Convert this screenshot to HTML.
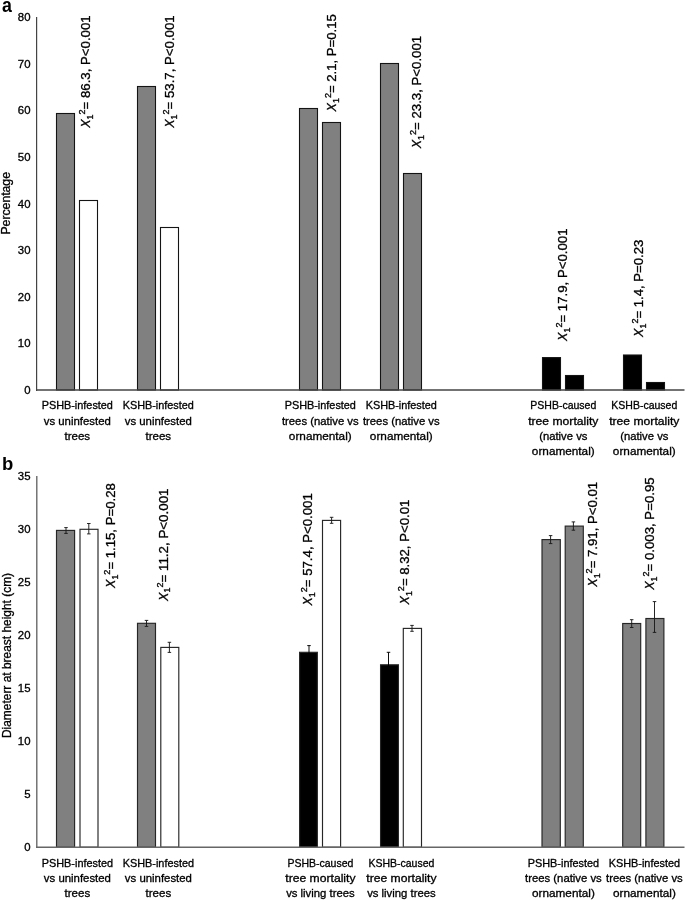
<!DOCTYPE html>
<html><head><meta charset="utf-8"><title>Figure</title>
<style>
html,body{margin:0;padding:0;background:#fff;}
body{width:685px;height:900px;overflow:hidden;position:relative;font-family:"Liberation Sans", sans-serif;}
svg text{font-family:"Liberation Sans", sans-serif;fill:#000;stroke:#000;stroke-width:0.32px;}
svg{will-change:transform;}
</style></head><body>
<svg width="685" height="900" viewBox="0 0 685 900" style="position:absolute;left:0;top:0"><rect x="0" y="0" width="685" height="900" fill="#fff"/><rect x="56.5" y="113.5" width="18" height="276.5" fill="#808080" stroke="#141414" stroke-width="1.1"/><rect x="79.5" y="200.5" width="18" height="189.5" fill="#fff" stroke="#141414" stroke-width="1.1"/><rect x="137.5" y="86.5" width="18" height="303.5" fill="#808080" stroke="#141414" stroke-width="1.1"/><rect x="160.5" y="227.5" width="18" height="162.5" fill="#fff" stroke="#141414" stroke-width="1.1"/><rect x="299.5" y="108.5" width="18" height="281.5" fill="#808080" stroke="#141414" stroke-width="1.1"/><rect x="322.5" y="122.5" width="18" height="267.5" fill="#808080" stroke="#141414" stroke-width="1.1"/><rect x="380.5" y="63.5" width="18" height="326.5" fill="#808080" stroke="#141414" stroke-width="1.1"/><rect x="403.5" y="173.5" width="18" height="216.5" fill="#808080" stroke="#141414" stroke-width="1.1"/><rect x="542.5" y="357.6" width="18" height="32.39999999999998" fill="#000" stroke="#141414" stroke-width="1.1"/><rect x="565.5" y="375.5" width="18" height="14.5" fill="#000" stroke="#141414" stroke-width="1.1"/><rect x="623.5" y="355.0" width="18" height="35.0" fill="#000" stroke="#141414" stroke-width="1.1"/><rect x="646.5" y="382.5" width="18" height="7.5" fill="#000" stroke="#141414" stroke-width="1.1"/><line x1="36.6" y1="17" x2="36.6" y2="391" stroke="#444" stroke-width="1.2"/><line x1="36" y1="390" x2="684.5" y2="390" stroke="#444" stroke-width="1.4"/><rect x="56.5" y="530.4" width="18.1" height="316.80" fill="#808080" stroke="#262626" stroke-width="1.15"/><rect x="80.0" y="529.3" width="18.0" height="317.90" fill="#fff" stroke="#262626" stroke-width="1.15"/><rect x="137.5" y="623.3" width="18.0" height="223.90" fill="#808080" stroke="#262626" stroke-width="1.15"/><rect x="160.8" y="647.4" width="18.0" height="199.80" fill="#fff" stroke="#262626" stroke-width="1.15"/><rect x="299.6" y="652.3" width="17.75" height="194.90" fill="#000" stroke="#262626" stroke-width="1.15"/><rect x="322.5" y="520.4" width="18.1" height="326.80" fill="#fff" stroke="#262626" stroke-width="1.15"/><rect x="380.55" y="664.8" width="17.9" height="182.40" fill="#000" stroke="#262626" stroke-width="1.15"/><rect x="403.3" y="628.4" width="18.2" height="218.80" fill="#fff" stroke="#262626" stroke-width="1.15"/><rect x="542.0" y="539.6" width="18.3" height="307.60" fill="#808080" stroke="#262626" stroke-width="1.15"/><rect x="565.2" y="526.1" width="18.1" height="321.10" fill="#808080" stroke="#262626" stroke-width="1.15"/><rect x="622.7" y="623.5" width="18.0" height="223.70" fill="#808080" stroke="#262626" stroke-width="1.15"/><rect x="645.9" y="618.5" width="18.0" height="228.70" fill="#808080" stroke="#262626" stroke-width="1.15"/><path d="M66.0 527.6V533.4M64.25 527.6H67.75M64.25 533.4H67.75" stroke="#1a1a1a" stroke-width="0.95" fill="none"/><path d="M88.8 523.5V533.9M87.05 523.5H90.55M87.05 533.9H90.55" stroke="#1a1a1a" stroke-width="0.95" fill="none"/><path d="M146.5 620.4V626.4M144.75 620.4H148.25M144.75 626.4H148.25" stroke="#1a1a1a" stroke-width="0.95" fill="none"/><path d="M169.4 642.3V652.4M167.65 642.3H171.15M167.65 652.4H171.15" stroke="#1a1a1a" stroke-width="0.95" fill="none"/><path d="M309.0 645.6V658.0M307.25 645.6H310.75M307.25 658.0H310.75" stroke="#000" stroke-width="0.95" fill="none"/><path d="M331.6 517.3V523.3M329.85 517.3H333.35M329.85 523.3H333.35" stroke="#1a1a1a" stroke-width="0.95" fill="none"/><path d="M388.5 652.3V676.5M386.75 652.3H390.25M386.75 676.5H390.25" stroke="#000" stroke-width="0.95" fill="none"/><path d="M412.0 625.4V631.3M410.25 625.4H413.75M410.25 631.3H413.75" stroke="#1a1a1a" stroke-width="0.95" fill="none"/><path d="M550.6 535.6V543.6M548.85 535.6H552.35M548.85 543.6H552.35" stroke="#1a1a1a" stroke-width="0.95" fill="none"/><path d="M573.4 521.9V530.2M571.65 521.9H575.15M571.65 530.2H575.15" stroke="#1a1a1a" stroke-width="0.95" fill="none"/><path d="M631.7 619.7V627.5M629.95 619.7H633.45M629.95 627.5H633.45" stroke="#1a1a1a" stroke-width="0.95" fill="none"/><path d="M654.5 601.6V632.4M652.75 601.6H656.25M652.75 632.4H656.25" stroke="#1a1a1a" stroke-width="0.95" fill="none"/><line x1="36.8" y1="476" x2="36.8" y2="848" stroke="#5e5e5e" stroke-width="1.3"/><line x1="36" y1="847.3" x2="684.5" y2="847.3" stroke="#666" stroke-width="1.4"/><text x="30.50" y="394.10" font-size="11.62" text-anchor="end" textLength="6.34" lengthAdjust="spacingAndGlyphs"  style="">0</text><text x="30.50" y="347.48" font-size="11.62" text-anchor="end" textLength="12.67" lengthAdjust="spacingAndGlyphs"  style="">10</text><text x="30.50" y="300.85" font-size="11.62" text-anchor="end" textLength="12.67" lengthAdjust="spacingAndGlyphs"  style="">20</text><text x="30.50" y="254.22" font-size="11.62" text-anchor="end" textLength="12.67" lengthAdjust="spacingAndGlyphs"  style="">30</text><text x="30.50" y="207.60" font-size="11.62" text-anchor="end" textLength="12.67" lengthAdjust="spacingAndGlyphs"  style="">40</text><text x="30.50" y="160.97" font-size="11.62" text-anchor="end" textLength="12.67" lengthAdjust="spacingAndGlyphs"  style="">50</text><text x="30.50" y="114.35" font-size="11.62" text-anchor="end" textLength="12.67" lengthAdjust="spacingAndGlyphs"  style="">60</text><text x="30.50" y="67.72" font-size="11.62" text-anchor="end" textLength="12.67" lengthAdjust="spacingAndGlyphs"  style="">70</text><text x="30.50" y="21.10" font-size="11.62" text-anchor="end" textLength="12.67" lengthAdjust="spacingAndGlyphs"  style="">80</text><text x="30.50" y="851.10" font-size="11.62" text-anchor="end" textLength="6.34" lengthAdjust="spacingAndGlyphs"  style="">0</text><text x="30.50" y="798.10" font-size="11.62" text-anchor="end" textLength="6.34" lengthAdjust="spacingAndGlyphs"  style="">5</text><text x="30.50" y="745.10" font-size="11.62" text-anchor="end" textLength="12.67" lengthAdjust="spacingAndGlyphs"  style="">10</text><text x="30.50" y="692.10" font-size="11.62" text-anchor="end" textLength="12.67" lengthAdjust="spacingAndGlyphs"  style="">15</text><text x="30.50" y="639.10" font-size="11.62" text-anchor="end" textLength="12.67" lengthAdjust="spacingAndGlyphs"  style="">20</text><text x="30.50" y="586.10" font-size="11.62" text-anchor="end" textLength="12.67" lengthAdjust="spacingAndGlyphs"  style="">25</text><text x="30.50" y="533.10" font-size="11.62" text-anchor="end" textLength="12.67" lengthAdjust="spacingAndGlyphs"  style="">30</text><text x="30.50" y="480.10" font-size="11.62" text-anchor="end" textLength="12.67" lengthAdjust="spacingAndGlyphs"  style="">35</text><text x="77.30" y="409.35" font-size="11.62" text-anchor="middle" textLength="71.29" lengthAdjust="spacingAndGlyphs"  style="">PSHB-infested</text><text x="77.30" y="424.50" font-size="11.62" text-anchor="middle" textLength="67.12" lengthAdjust="spacingAndGlyphs"  style="">vs uninfested</text><text x="77.30" y="439.65" font-size="11.62" text-anchor="middle" textLength="25.71" lengthAdjust="spacingAndGlyphs"  style="">trees</text><text x="158.30" y="409.35" font-size="11.62" text-anchor="middle" textLength="71.22" lengthAdjust="spacingAndGlyphs"  style="">KSHB-infested</text><text x="158.30" y="424.50" font-size="11.62" text-anchor="middle" textLength="67.12" lengthAdjust="spacingAndGlyphs"  style="">vs uninfested</text><text x="158.30" y="439.65" font-size="11.62" text-anchor="middle" textLength="25.71" lengthAdjust="spacingAndGlyphs"  style="">trees</text><text x="320.30" y="409.35" font-size="11.62" text-anchor="middle" textLength="71.29" lengthAdjust="spacingAndGlyphs"  style="">PSHB-infested</text><text x="320.30" y="424.50" font-size="11.62" text-anchor="middle" textLength="76.78" lengthAdjust="spacingAndGlyphs"  style="">trees (native vs</text><text x="320.30" y="439.65" font-size="11.62" text-anchor="middle" textLength="62.84" lengthAdjust="spacingAndGlyphs"  style="">ornamental)</text><text x="401.30" y="409.35" font-size="11.62" text-anchor="middle" textLength="71.22" lengthAdjust="spacingAndGlyphs"  style="">KSHB-infested</text><text x="401.30" y="424.50" font-size="11.62" text-anchor="middle" textLength="76.78" lengthAdjust="spacingAndGlyphs"  style="">trees (native vs</text><text x="401.30" y="439.65" font-size="11.62" text-anchor="middle" textLength="62.84" lengthAdjust="spacingAndGlyphs"  style="">ornamental)</text><text x="563.30" y="409.35" font-size="11.62" text-anchor="middle" textLength="66.03" lengthAdjust="spacingAndGlyphs"  style="">PSHB-caused</text><text x="563.30" y="424.50" font-size="11.62" text-anchor="middle" textLength="70.19" lengthAdjust="spacingAndGlyphs"  style="">tree mortality</text><text x="563.30" y="439.65" font-size="11.62" text-anchor="middle" textLength="48.24" lengthAdjust="spacingAndGlyphs"  style="">(native vs</text><text x="563.30" y="454.80" font-size="11.62" text-anchor="middle" textLength="62.84" lengthAdjust="spacingAndGlyphs"  style="">ornamental)</text><text x="644.30" y="409.35" font-size="11.62" text-anchor="middle" textLength="65.96" lengthAdjust="spacingAndGlyphs"  style="">KSHB-caused</text><text x="644.30" y="424.50" font-size="11.62" text-anchor="middle" textLength="70.19" lengthAdjust="spacingAndGlyphs"  style="">tree mortality</text><text x="644.30" y="439.65" font-size="11.62" text-anchor="middle" textLength="48.24" lengthAdjust="spacingAndGlyphs"  style="">(native vs</text><text x="644.30" y="454.80" font-size="11.62" text-anchor="middle" textLength="62.84" lengthAdjust="spacingAndGlyphs"  style="">ornamental)</text><text x="77.40" y="866.60" font-size="11.62" text-anchor="middle" textLength="71.29" lengthAdjust="spacingAndGlyphs"  style="">PSHB-infested</text><text x="77.40" y="881.75" font-size="11.62" text-anchor="middle" textLength="67.12" lengthAdjust="spacingAndGlyphs"  style="">vs uninfested</text><text x="77.40" y="896.90" font-size="11.62" text-anchor="middle" textLength="25.71" lengthAdjust="spacingAndGlyphs"  style="">trees</text><text x="158.40" y="866.60" font-size="11.62" text-anchor="middle" textLength="71.22" lengthAdjust="spacingAndGlyphs"  style="">KSHB-infested</text><text x="158.40" y="881.75" font-size="11.62" text-anchor="middle" textLength="67.12" lengthAdjust="spacingAndGlyphs"  style="">vs uninfested</text><text x="158.40" y="896.90" font-size="11.62" text-anchor="middle" textLength="25.71" lengthAdjust="spacingAndGlyphs"  style="">trees</text><text x="320.40" y="866.60" font-size="11.62" text-anchor="middle" textLength="66.03" lengthAdjust="spacingAndGlyphs"  style="">PSHB-caused</text><text x="320.40" y="881.75" font-size="11.62" text-anchor="middle" textLength="70.19" lengthAdjust="spacingAndGlyphs"  style="">tree mortality</text><text x="320.40" y="896.90" font-size="11.62" text-anchor="middle" textLength="68.54" lengthAdjust="spacingAndGlyphs"  style="">vs living trees</text><text x="401.40" y="866.60" font-size="11.62" text-anchor="middle" textLength="65.96" lengthAdjust="spacingAndGlyphs"  style="">KSHB-caused</text><text x="401.40" y="881.75" font-size="11.62" text-anchor="middle" textLength="70.19" lengthAdjust="spacingAndGlyphs"  style="">tree mortality</text><text x="401.40" y="896.90" font-size="11.62" text-anchor="middle" textLength="68.54" lengthAdjust="spacingAndGlyphs"  style="">vs living trees</text><text x="563.40" y="866.60" font-size="11.62" text-anchor="middle" textLength="71.29" lengthAdjust="spacingAndGlyphs"  style="">PSHB-infested</text><text x="563.40" y="881.75" font-size="11.62" text-anchor="middle" textLength="76.78" lengthAdjust="spacingAndGlyphs"  style="">trees (native vs</text><text x="563.40" y="896.90" font-size="11.62" text-anchor="middle" textLength="62.84" lengthAdjust="spacingAndGlyphs"  style="">ornamental)</text><text x="644.40" y="866.60" font-size="11.62" text-anchor="middle" textLength="71.22" lengthAdjust="spacingAndGlyphs"  style="">KSHB-infested</text><text x="644.40" y="881.75" font-size="11.62" text-anchor="middle" textLength="76.78" lengthAdjust="spacingAndGlyphs"  style="">trees (native vs</text><text x="644.40" y="896.90" font-size="11.62" text-anchor="middle" textLength="62.84" lengthAdjust="spacingAndGlyphs"  style="">ornamental)</text><text transform="translate(10.30,203.30) rotate(-90)" x="0" y="0" font-size="12.83" text-anchor="middle" textLength="62.46" lengthAdjust="spacingAndGlyphs">Percentage</text><text transform="translate(10.80,655.50) rotate(-90)" x="0" y="0" font-size="12.0" text-anchor="middle" textLength="165.09" lengthAdjust="spacingAndGlyphs">Diameterr at breast height (cm)</text><text x="1.9" y="11.7" font-size="20" font-weight="bold" textLength="9.9" lengthAdjust="spacingAndGlyphs" style="stroke:none">a</text><text x="1.9" y="470.1" font-size="19.1" font-weight="bold" textLength="11.3" lengthAdjust="spacingAndGlyphs" style="stroke:none">b</text><g transform="translate(90.25,127.80) rotate(-90)"><text x="0" y="0" font-size="13.67" font-style="italic" textLength="8.3" lengthAdjust="spacingAndGlyphs">X</text><text x="8.4" y="2.9" font-size="9.02">1</text><text x="13.3" y="-5.0" font-size="9.02">2</text><text x="18.4" y="0" font-size="13.67" textLength="94.01" lengthAdjust="spacingAndGlyphs">= 86.3, P&lt;0.001</text></g><g transform="translate(174.45,127.80) rotate(-90)"><text x="0" y="0" font-size="13.67" font-style="italic" textLength="8.3" lengthAdjust="spacingAndGlyphs">X</text><text x="8.4" y="2.9" font-size="9.02">1</text><text x="13.3" y="-5.0" font-size="9.02">2</text><text x="18.4" y="0" font-size="13.67" textLength="94.01" lengthAdjust="spacingAndGlyphs">= 53.7, P&lt;0.001</text></g><g transform="translate(335.95,111.40) rotate(-90)"><text x="0" y="0" font-size="13.67" font-style="italic" textLength="8.3" lengthAdjust="spacingAndGlyphs">X</text><text x="8.4" y="2.9" font-size="9.02">1</text><text x="13.3" y="-5.0" font-size="9.02">2</text><text x="18.4" y="0" font-size="13.67" textLength="78.80" lengthAdjust="spacingAndGlyphs">= 2.1, P=0.15</text></g><g transform="translate(420.90,148.30) rotate(-90)"><text x="0" y="0" font-size="13.67" font-style="italic" textLength="8.3" lengthAdjust="spacingAndGlyphs">X</text><text x="8.4" y="2.9" font-size="9.02">1</text><text x="13.3" y="-5.0" font-size="9.02">2</text><text x="18.4" y="0" font-size="13.67" textLength="94.01" lengthAdjust="spacingAndGlyphs">= 23.3, P&lt;0.001</text></g><g transform="translate(567.05,340.90) rotate(-90)"><text x="0" y="0" font-size="13.67" font-style="italic" textLength="8.3" lengthAdjust="spacingAndGlyphs">X</text><text x="8.4" y="2.9" font-size="9.02">1</text><text x="13.3" y="-5.0" font-size="9.02">2</text><text x="18.4" y="0" font-size="13.67" textLength="94.01" lengthAdjust="spacingAndGlyphs">= 17.9, P&lt;0.001</text></g><g transform="translate(642.75,336.90) rotate(-90)"><text x="0" y="0" font-size="13.67" font-style="italic" textLength="8.3" lengthAdjust="spacingAndGlyphs">X</text><text x="8.4" y="2.9" font-size="9.02">1</text><text x="13.3" y="-5.0" font-size="9.02">2</text><text x="18.4" y="0" font-size="13.67" textLength="78.80" lengthAdjust="spacingAndGlyphs">= 1.4, P=0.23</text></g><g transform="translate(114.65,588.00) rotate(-90)"><text x="0" y="0" font-size="13.67" font-style="italic" textLength="8.3" lengthAdjust="spacingAndGlyphs">X</text><text x="8.4" y="2.9" font-size="9.02">1</text><text x="13.3" y="-5.0" font-size="9.02">2</text><text x="18.4" y="0" font-size="13.67" textLength="86.40" lengthAdjust="spacingAndGlyphs">= 1.15, P=0.28</text></g><g transform="translate(167.55,600.90) rotate(-90)"><text x="0" y="0" font-size="13.67" font-style="italic" textLength="8.3" lengthAdjust="spacingAndGlyphs">X</text><text x="8.4" y="2.9" font-size="9.02">1</text><text x="13.3" y="-5.0" font-size="9.02">2</text><text x="18.4" y="0" font-size="13.67" textLength="94.01" lengthAdjust="spacingAndGlyphs">= 11.2, P&lt;0.001</text></g><g transform="translate(311.80,605.60) rotate(-90)"><text x="0" y="0" font-size="13.67" font-style="italic" textLength="8.3" lengthAdjust="spacingAndGlyphs">X</text><text x="8.4" y="2.9" font-size="9.02">1</text><text x="13.3" y="-5.0" font-size="9.02">2</text><text x="18.4" y="0" font-size="13.67" textLength="94.01" lengthAdjust="spacingAndGlyphs">= 57.4, P&lt;0.001</text></g><g transform="translate(408.60,604.50) rotate(-90)"><text x="0" y="0" font-size="13.67" font-style="italic" textLength="8.3" lengthAdjust="spacingAndGlyphs">X</text><text x="8.4" y="2.9" font-size="9.02">1</text><text x="13.3" y="-5.0" font-size="9.02">2</text><text x="18.4" y="0" font-size="13.67" textLength="86.40" lengthAdjust="spacingAndGlyphs">= 8.32, P&lt;0.01</text></g><g transform="translate(597.45,586.70) rotate(-90)"><text x="0" y="0" font-size="13.67" font-style="italic" textLength="8.3" lengthAdjust="spacingAndGlyphs">X</text><text x="8.4" y="2.9" font-size="9.02">1</text><text x="13.3" y="-5.0" font-size="9.02">2</text><text x="18.4" y="0" font-size="13.67" textLength="86.40" lengthAdjust="spacingAndGlyphs">= 7.91, P&lt;0.01</text></g><g transform="translate(654.25,589.80) rotate(-90)"><text x="0" y="0" font-size="13.67" font-style="italic" textLength="8.3" lengthAdjust="spacingAndGlyphs">X</text><text x="8.4" y="2.9" font-size="9.02">1</text><text x="13.3" y="-5.0" font-size="9.02">2</text><text x="18.4" y="0" font-size="13.67" textLength="94.01" lengthAdjust="spacingAndGlyphs">= 0.003, P=0.95</text></g></svg>
</body></html>
